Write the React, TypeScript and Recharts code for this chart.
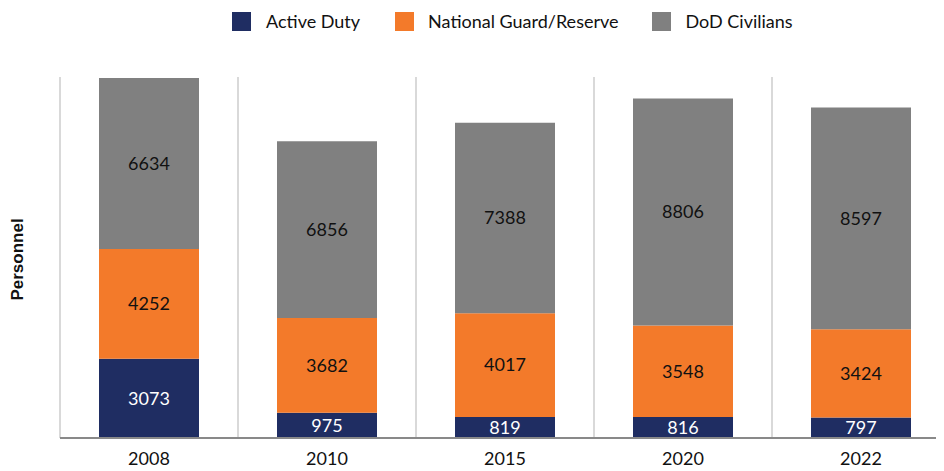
import React from 'react';
import { BarChart, Bar, XAxis, YAxis, CartesianGrid, Legend, LabelList } from 'recharts';

const years = ['2008', '2010', '2015', '2020', '2022'];
const activeDuty = [3073, 975, 819, 816, 797];
const guardReserve = [4252, 3682, 4017, 3548, 3424];
const dodCivilians = [6634, 6856, 7388, 8806, 8597];

const seriesNames = ['Active Duty', 'National Guard/Reserve', 'DoD Civilians'];
const seriesKeys = ['active', 'guard', 'civ'];
const seriesColors = ['#1F2D62', '#F37A2A', '#808080'];

const data = years.map((y, i) => ({
  year: y,
  active: activeDuty[i],
  guard: guardReserve[i],
  civ: dodCivilians[i],
}));

const FONT = 'Lato, "Open Sans", sans-serif';

const LegendContent = () => (
  <div style={{ height: 69, position: 'relative', fontFamily: FONT, fontSize: 18, color: '#111' }}>
    <div style={{ display: 'flex', alignItems: 'center', position: 'absolute', left: 224, top: 3 }}>
      {seriesNames.map((n, i) => (
        <div key={n} style={{ display: 'flex', alignItems: 'center', marginRight: i === 0 ? 35 : 33 }}>
          <div style={{ width: 19, height: 19, background: seriesColors[i], marginRight: i === 1 ? 14 : 15 }} />
          <span style={{ lineHeight: '20px' }}>{n}</span>
        </div>
      ))}
    </div>
  </div>
);

const gridGen = (props: any) => {
  const off = props && props.offset ? props.offset : { left: 52, width: 890 };
  return years.map((_, i) => off.left + (i * off.width) / years.length).concat([off.left + off.width]);
};

export default function App() {
  return (
    <div style={{ width: 936, height: 463, overflow: 'hidden' }}>
      <BarChart width={950} height={463} data={data} margin={{ top: 0, right: 8, left: 0, bottom: 0 }}>
        <Legend verticalAlign="top" content={<LegendContent />} />
        <CartesianGrid horizontal={false} vertical stroke="#D9D9D9" strokeWidth={2} verticalCoordinatesGenerator={gridGen} />
        <XAxis
          dataKey="year"
          tickLine={false}
          axisLine={{ stroke: '#898989', strokeWidth: 2 }}
          tick={{ fill: '#111', fontSize: 18, fontFamily: FONT }}
          tickMargin={8}
          height={33}
        />
        <YAxis
          width={52}
          domain={[0, 14000]}
          tick={false}
          tickLine={false}
          axisLine={false}
          label={{
            value: 'Personnel',
            angle: -90,
            position: 'center',
            dx: -17,
            dy: 2,
            style: { fontFamily: '"Liberation Sans", Arial, sans-serif', fontWeight: 700, fontSize: 17, fill: '#111' },
          }}
        />
        {seriesKeys.map((k, i) => (
          <Bar key={k} dataKey={k} name={seriesNames[i]} stackId="a" fill={seriesColors[i]} barSize={100} isAnimationActive={false}>
            <LabelList
              dataKey={k}
              position="center"
              fill={i === 0 ? '#FFFFFF' : '#111111'}
              style={{ fontFamily: FONT, fontSize: 18 }}
            />
          </Bar>
        ))}
      </BarChart>
    </div>
  );
}
